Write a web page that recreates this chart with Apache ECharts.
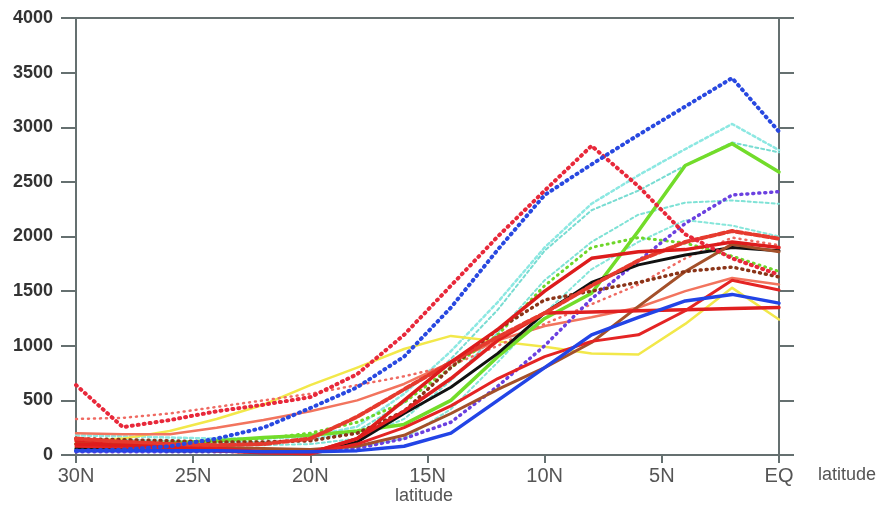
<!DOCTYPE html>
<html>
<head>
<meta charset="utf-8">
<style>
  html, body { margin: 0; padding: 0; background: #fff; }
  #chart { width: 881px; height: 505px; }
</style>
<script src="https://cdn.jsdelivr.net/npm/echarts@6/dist/echarts.min.js"></script>
</head>
<body>
<div id="chart"></div>
<script>
// latitudes (degrees north) shared by every curve
const lats = [30, 28, 26, 24, 22, 20, 18, 16, 14, 12, 10, 8, 6, 4, 2, 0]

// x-axis ticks and their labels
const xTicks = [30, 25, 20, 15, 10, 5, 0]
const xTickLabels = ['30N', '25N', '20N', '15N', '10N', '5N', 'EQ']

// values, one array per curve
const cyanTop     = [180, 170, 160, 150, 150, 170, 260, 560, 950, 1400, 1900, 2300, 2560, 2800, 3030, 2790]
const cyanSecond  = [150, 140, 130, 120, 120, 140, 220, 480, 880, 1330, 1870, 2240, 2420, 2650, 2860, 2770]
const cyanThird   = [120, 110, 100, 90, 90, 100, 150, 330, 680, 1120, 1600, 1950, 2200, 2310, 2330, 2300]
const cyanFourth  = [70, 60, 50, 40, 40, 50, 70, 150, 420, 850, 1300, 1700, 1950, 2150, 2100, 2000]
const yellowSolid = [120, 150, 220, 330, 460, 640, 800, 970, 1090, 1040, 990, 930, 920, 1200, 1530, 1240]
const coralSolid  = [200, 190, 190, 250, 320, 400, 500, 650, 850, 1050, 1180, 1260, 1350, 1500, 1620, 1560]
const salmonDots  = [330, 340, 380, 440, 500, 560, 640, 720, 820, 1000, 1200, 1380, 1560, 1800, 1990, 1920]
const greenSolid  = [100, 100, 110, 130, 160, 180, 220, 280, 500, 900, 1250, 1480, 2050, 2650, 2850, 2590]
const greenDots   = [60, 60, 80, 110, 150, 200, 300, 480, 800, 1100, 1550, 1900, 1990, 1940, 1820, 1680]
const purpleDots  = [30, 30, 30, 30, 30, 40, 60, 150, 300, 630, 1000, 1430, 1775, 2120, 2380, 2410]
const blackSolid  = [60, 50, 40, 40, 30, 30, 120, 380, 620, 930, 1300, 1580, 1740, 1830, 1900, 1870]
const brownSolid  = [100, 90, 80, 70, 60, 50, 80, 180, 380, 600, 800, 1030, 1360, 1680, 1930, 1860]
const brownDots   = [150, 140, 130, 120, 120, 130, 200, 400, 800, 1150, 1420, 1500, 1580, 1680, 1720, 1630]
const redSolidHi  = [100, 90, 70, 40, 20, 20, 150, 500, 850, 1150, 1500, 1800, 1860, 1880, 1950, 1900]
const redSolidMid = [130, 120, 100, 60, 30, 20, 150, 400, 700, 1050, 1300, 1310, 1320, 1330, 1340, 1350]
const redSolidLo  = [80, 70, 60, 40, 20, 10, 100, 250, 450, 700, 900, 1040, 1100, 1320, 1600, 1510]
const redDashed   = [150, 120, 100, 90, 100, 150, 350, 600, 850, 1080, 1300, 1550, 1780, 1950, 2050, 1980]
const blueSolid   = [40, 40, 40, 40, 30, 30, 40, 80, 200, 500, 800, 1100, 1260, 1410, 1470, 1390]
const redDots     = [640, 255, 320, 400, 460, 530, 740, 1100, 1550, 2000, 2420, 2830, 2460, 2020, 1800, 1650]
const blueDots    = [40, 50, 80, 150, 250, 430, 620, 900, 1350, 1880, 2380, 2660, 2930, 3190, 3450, 2960]

const axisColor = '#657070'
const dots = [1, 5]
const dashes = [3, 3]

function curve(values, color, width, type) {
  return {
    type: 'line',
    data: lats.map((lat, i) => [lat, values[i]]),
    showSymbol: false,
    silent: true,
    lineStyle: { color: color, width: width, type: type || 'solid', cap: 'round', join: 'round' }
  }
}

const chart = echarts.init(document.getElementById('chart'))

chart.setOption({
  backgroundColor: '#fff',
  animation: false,
  grid: { left: 76, right: 102, top: 18, bottom: 50 },
  xAxis: [{
    type: 'value',
    min: 0,
    max: 30,
    interval: 5,
    inverse: true,
    position: 'bottom',
    splitLine: { show: false },
    axisLine: { show: true, onZero: false, lineStyle: { color: axisColor, width: 2 } },
    axisTick: { show: true, inside: false, length: 8, lineStyle: { color: axisColor, width: 2 } },
    axisLabel: {
      fontFamily: 'Liberation Sans',
      fontSize: 20,
      color: '#555',
      margin: 11,
      formatter: v => xTickLabels[xTicks.indexOf(v)]
    }
  }, {
    type: 'value',
    min: 0,
    max: 30,
    inverse: true,
    position: 'top',
    splitLine: { show: false },
    axisLine: { show: true, onZero: false, lineStyle: { color: axisColor, width: 2 } },
    axisTick: { show: false },
    axisLabel: { show: false }
  }],
  yAxis: [{
    type: 'value',
    min: 0,
    max: 4000,
    interval: 500,
    position: 'left',
    splitLine: { show: false },
    axisLine: { show: true, onZero: false, lineStyle: { color: axisColor, width: 2 } },
    axisTick: { show: true, inside: false, length: 15, lineStyle: { color: axisColor, width: 2 } },
    axisLabel: {
      fontFamily: 'Liberation Sans',
      fontSize: 18,
      fontWeight: 'bold',
      color: '#333',
      margin: 23,
      formatter: v => String(v)
    }
  }, {
    type: 'value',
    min: 0,
    max: 4000,
    interval: 500,
    position: 'right',
    splitLine: { show: false },
    axisLine: { show: true, onZero: false, lineStyle: { color: axisColor, width: 2 } },
    axisTick: { show: true, inside: false, length: 15, lineStyle: { color: axisColor, width: 2 } },
    axisLabel: { show: false }
  }],
  graphic: [{
    type: 'text',
    left: 818,
    top: 466,
    style: { text: 'latitude', fontFamily: 'Liberation Sans', fontSize: 18, fill: '#555' }
  }, {
    type: 'text',
    left: 395,
    top: 487,
    style: { text: 'latitude', fontFamily: 'Liberation Sans', fontSize: 18, fill: '#555' }
  }],
  series: [
    curve(cyanFourth, '#86e6da', 2, dashes),
    curve(cyanThird, '#7fe2d6', 2, dashes),
    curve(cyanSecond, '#78dcd2', 2, dashes),
    curve(cyanTop, '#8ce8e2', 2.5, dashes),
    curve(yellowSolid, '#f2e84a', 2.5),
    curve(coralSolid, '#f2745e', 2.5),
    curve(salmonDots, '#ef6a62', 2.5, dots),
    curve(greenDots, '#6ed62a', 3, dots),
    curve(purpleDots, '#6a40e0', 3.5, dots),
    curve(greenSolid, '#72dc2a', 3.5),
    curve(blackSolid, '#111111', 3),
    curve(brownSolid, '#a4502a', 3),
    curve(brownDots, '#8a3418', 3.5, dots),
    curve(redSolidMid, '#e02020', 3.5),
    curve(redSolidLo, '#e42424', 3),
    curve(redDashed, '#e63a2e', 4, [6, 3]),
    curve(redSolidHi, '#dd1c1c', 3.5),
    curve(blueSolid, '#2244e6', 3.5),
    curve(redDots, '#e8283a', 4, dots),
    curve(blueDots, '#2848e0', 4, dots)
  ]
})
</script>
</body>
</html>
